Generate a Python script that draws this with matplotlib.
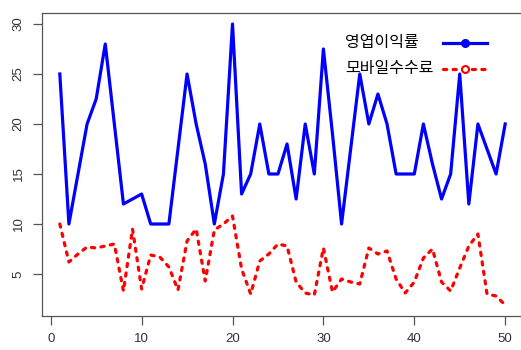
import matplotlib
matplotlib.use('Agg')
import matplotlib.pyplot as plt
from matplotlib.lines import Line2D

plt.rcParams['font.family'] = ['Noto Sans CJK KR', 'DejaVu Sans']

x = list(range(1, 51))
profit = [25, 10, 15, 20, 22.5, 28, 20, 12, 12.5, 13,
          10, 10, 10, 17.5, 25, 20, 16, 10, 15, 30,
          13, 15, 20, 15, 15, 18, 12.5, 20, 15, 27.5,
          19, 10, 17.5, 25, 20, 23, 20, 15, 15, 15,
          20, 16, 12.5, 15, 25, 12, 20, 17.5, 15, 20]
fee = [10, 6.2, 7.0, 7.7, 7.6, 7.8, 8.0, 3.3, 9.5, 3.5,
       6.9, 6.7, 5.7, 3.4, 8.3, 9.5, 4.3, 9.4, 10.0, 10.8,
       5.5, 3.0, 6.3, 7.0, 8.0, 7.8, 4.2, 3.1, 2.9, 7.6,
       3.2, 4.5, 4.2, 4.0, 7.6, 7.0, 7.3, 4.5, 3.1, 4.2,
       6.6, 7.5, 4.2, 3.3, 5.6, 7.8, 9.0, 3.0, 2.8, 1.9]
labels = ['영엽이익률', '모바일수수료']

W, H = 521, 350
fig = plt.figure(figsize=(5.21, 3.5), dpi=100)
ax = fig.add_axes([42/W, 34/H, 481/W, 303/H])

dotted = (0, (1.0, 2.0))
ax.plot(x, profit, color='#0000ff', lw=2.3)
ax.plot(x, fee, color='#ff0000', lw=2.3, linestyle=dotted, dash_capstyle='round')

ax.set_xlim(-0.96, 51.96)
ax.set_ylim(0.8, 31.1)
ax.set_xticks([0, 10, 20, 30, 40, 50])
ax.set_yticks([5, 10, 15, 20, 25, 30])
ax.spines['right'].set_visible(False)
for s in ax.spines.values():
    s.set_color('#555555')
    s.set_linewidth(0.9)
ax.tick_params(direction='out', length=6.5, width=0.9, color='#555555',
               labelsize=9.5, labelcolor='#333333', pad=6)
for t in ax.get_xticklabels() + ax.get_yticklabels():
    t.set_family('Liberation Sans')
for t in ax.get_yticklabels():
    t.set_rotation(90)
    t.set_va('center')

# legend drawn by hand: text left, line sample right (as in the original)
rows = [(43, '#0000ff', '-', '#0000ff'), (69, '#ff0000', dotted, 'white')]
for lab, (py, col, ls, mfc) in zip(labels, rows):
    fig.text(345/W, 1 - py/H, lab, fontsize=11.5, va='center', ha='left', color='black')
    fig.add_artist(Line2D([443/W, 487/W], [1 - py/H, 1 - py/H], color=col, lw=2.3,
                          linestyle=ls, dash_capstyle='round'))
    fig.add_artist(Line2D([465/W], [1 - py/H], color=col, marker='o', markersize=5,
                          markerfacecolor=mfc, markeredgewidth=1.5))

fig.savefig('out.png', dpi=100)
